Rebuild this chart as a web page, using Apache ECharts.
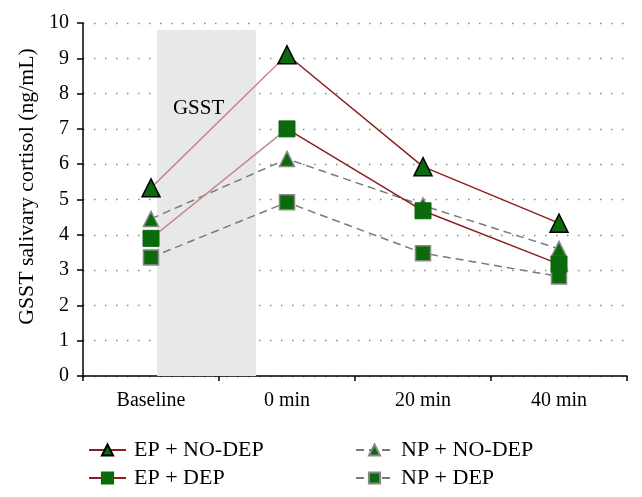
<!DOCTYPE html>
<html>
<head>
<meta charset="utf-8">
<script src="https://cdn.jsdelivr.net/npm/echarts@6/dist/echarts.min.js"></script>
<style>html,body{margin:0;padding:0;background:#fff}#c{width:642px;height:497px}</style>
</head>
<body>
<div id="c"></div>
<script>
var categories = ['Baseline', '0 min', '20 min', '40 min'];
var epNoDep = [5.33, 9.1, 5.93, 4.33];
var epDep = [3.9, 7.0, 4.68, 3.17];
var npNoDep = [4.45, 6.15, 4.83, 3.6];
var npDep = [3.36, 4.92, 3.48, 2.82];
var yTicks = [0, 1, 2, 3, 4, 5, 6, 7, 8, 9, 10];
var gsstBand = [0.045, 0.772, 9.8];

var FONT = '"Liberation Serif", "DejaVu Serif", serif';
var GREEN = '#0b6a0b';
var RED = '#8e1d1d';
var PINK = '#c48a8a';
var GRAY = '#7a7a7a';

function epLine() {
  return {
    type: 'linear', x: 0, y: 0, x2: 1, y2: 0,
    colorStops: [
      {offset: 0, color: PINK}, {offset: 0.333, color: PINK},
      {offset: 0.334, color: RED}, {offset: 1, color: RED}
    ]
  };
}

var chart = echarts.init(document.getElementById('c'));
chart.setOption({
  animation: false,
  textStyle: {fontFamily: FONT},
  grid: {left: 83, right: 15, top: 23, bottom: 121},
  xAxis: [{
    type: 'category',
    data: categories,
    boundaryGap: true,
    axisLine: {onZero: false, lineStyle: {color: '#000', width: 1.5}},
    axisTick: {show: true, inside: false, length: 5, lineStyle: {color: '#000', width: 1.5}},
    axisLabel: {color: '#000', fontSize: 20, fontFamily: FONT, margin: 15},
    splitLine: {show: false}
  }, {
    type: 'value', min: -0.5, max: 3.5, show: false
  }],
  yAxis: {
    type: 'value',
    min: yTicks[0], max: yTicks[yTicks.length - 1], interval: 1,
    name: 'GSST salivary cortisol (ng/mL)',
    nameLocation: 'middle', nameGap: 43,
    nameTextStyle: {color: '#000', fontSize: 21.8, fontFamily: FONT, padding: [0, 0, 0, 26]},
    axisLine: {show: true, onZero: false, lineStyle: {color: '#000', width: 1.5}},
    axisTick: {show: true, length: 6, lineStyle: {color: '#000', width: 1.5}},
    axisLabel: {color: '#000', fontSize: 20, fontFamily: FONT, margin: 14},
    splitLine: {show: true, lineStyle: {color: '#888', type: [1.5, 9.5], width: 1.3}}
  },
  legend: [{
    orient: 'vertical', left: 83, top: 434, itemGap: 6,
    itemWidth: 37, itemHeight: 14,
    textStyle: {color: '#000', fontSize: 22, fontFamily: FONT, padding: [0, 0, 0, 3]},
    data: [
      {name: 'EP + NO-DEP', lineStyle: {color: RED}},
      {name: 'EP + DEP', lineStyle: {color: RED}}
    ]
  }, {
    orient: 'vertical', left: 350, top: 434, itemGap: 6,
    itemWidth: 37, itemHeight: 14,
    textStyle: {color: '#000', fontSize: 22, fontFamily: FONT, padding: [0, 0, 0, 3]},
    data: ['NP + NO-DEP', 'NP + DEP']
  }],
  series: [{
    name: 'band', type: 'line', xAxisIndex: 1, yAxisIndex: 0, data: [], z: 1,
    silent: true,
    markArea: {
      silent: true,
      itemStyle: {color: '#e8e8e8'},
      label: {show: true, position: 'insideTop', distance: 68, offset: [-8, 0], formatter: 'GSST',
        color: '#000', fontSize: 21, fontFamily: FONT},
      data: [[{xAxis: gsstBand[0], yAxis: 0}, {xAxis: gsstBand[1], yAxis: gsstBand[2]}]]
    }
  }, {
    name: 'NP + NO-DEP', type: 'line', data: npNoDep, z: 3,
    symbol: 'triangle', symbolSize: 15,
    lineStyle: {color: GRAY, width: 1.5, type: [8, 5]},
    itemStyle: {color: GREEN, borderColor: '#888', borderWidth: 1.5}
  }, {
    name: 'NP + DEP', type: 'line', data: npDep, z: 3,
    symbol: 'rect', symbolSize: 15,
    lineStyle: {color: GRAY, width: 1.5, type: [8, 5]},
    itemStyle: {color: GREEN, borderColor: '#888', borderWidth: 1.5}
  }, {
    name: 'EP + DEP', type: 'line', data: epDep, z: 4,
    symbol: 'rect', symbolSize: 16,
    lineStyle: {color: epLine(), width: 1.5},
    itemStyle: {color: GREEN, borderColor: GREEN, borderWidth: 1}
  }, {
    name: 'EP + NO-DEP', type: 'line', data: epNoDep, z: 5,
    symbol: 'triangle', symbolSize: 18,
    lineStyle: {color: epLine(), width: 1.5},
    itemStyle: {color: GREEN, borderColor: '#000', borderWidth: 1.5}
  }]
});
</script>
</body>
</html>
